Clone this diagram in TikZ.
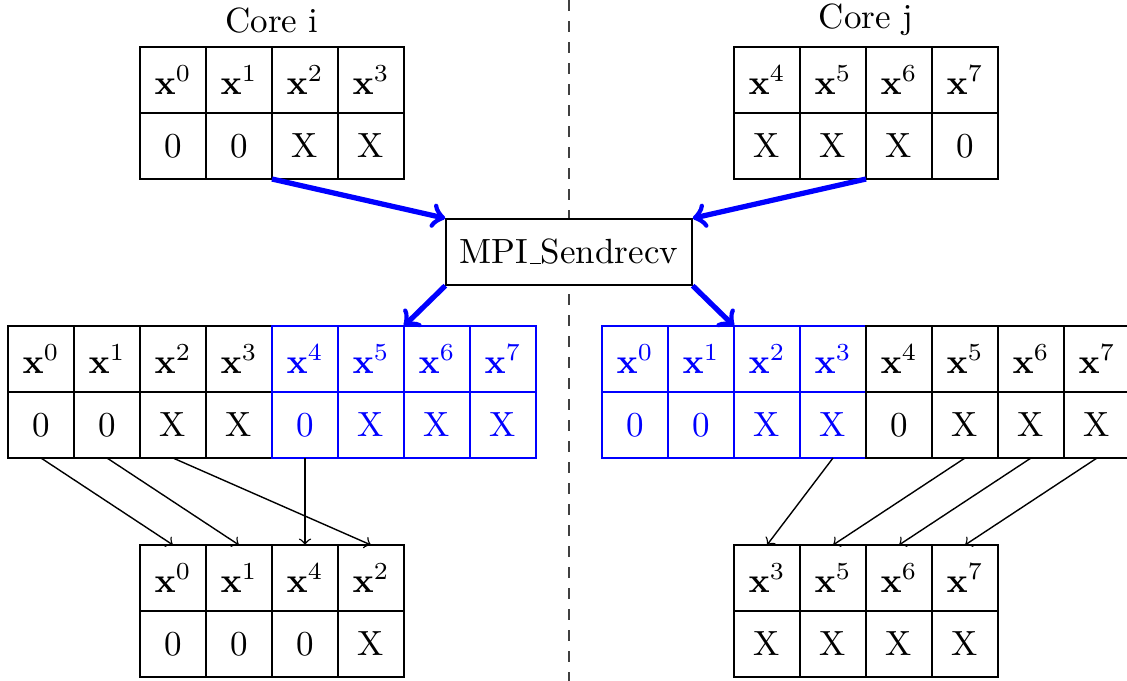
\documentclass[tikz,border=0pt]{standalone}
\begin{document}
\begin{tikzpicture}[x=0.2857pt,y=-0.2857pt,
  cell/.style={draw, minimum width=18.857pt, minimum height=18.857pt, inner sep=0pt, outer sep=0pt},
  bcell/.style={cell, draw=blue, text=blue},
  sendarrow/.style={->, blue, line width=1.5pt},
  maparrow/.style={->},
  sep/.style={dashed, black!75}]
\useasboundingbox (0,0) rectangle (1127,681);
\coordinate (dtop) at (569,0);
\coordinate (dbot) at (569,681);
\draw[sep] (dtop) -- (dbot);

% top-left table
\node[anchor=base] (corei) at (272,32) {Core i};
\foreach \s [count=\i from 0] in {0,1,2,3}
  \node[cell] (tlh\i) at (173+66*\i,80) {$\mathbf{x}^{\s}$};
\foreach \v [count=\i from 0] in {0,0,X,X}
  \node[cell] (tlv\i) at (173+66*\i,146) {\v};

% top-right table
\node[anchor=base] (corej) at (866,28) {Core j};
\foreach \s [count=\i from 0] in {4,5,6,7}
  \node[cell] (trh\i) at (767+66*\i,80) {$\mathbf{x}^{\s}$};
\foreach \v [count=\i from 0] in {X,X,X,0}
  \node[cell] (trv\i) at (767+66*\i,146) {\v};

% MPI box
\node[draw, fill=white, minimum width=70.29pt, minimum height=18.857pt, inner sep=0pt] (mpi) at (569,252) {MPI\kern.06em\vbox{\hrule width.3em}Sendrecv};

% middle-left table
\foreach \s [count=\i from 0] in {0,1,2,3}
  \node[cell] (mlh\i) at (41+66*\i,359) {$\mathbf{x}^{\s}$};
\foreach \v [count=\i from 0] in {0,0,X,X}
  \node[cell] (mlv\i) at (41+66*\i,425) {\v};
\foreach \s [count=\i from 4] in {4,5,6,7}
  \node[bcell] (mlh\i) at (41+66*\i,359) {$\mathbf{x}^{\s}$};
\foreach \v [count=\i from 4] in {0,X,X,X}
  \node[bcell] (mlv\i) at (41+66*\i,425) {\v};

% middle-right table
\foreach \s [count=\i from 0] in {0,1,2,3}
  \node[bcell] (mrh\i) at (635+66*\i,359) {$\mathbf{x}^{\s}$};
\foreach \v [count=\i from 0] in {0,0,X,X}
  \node[bcell] (mrv\i) at (635+66*\i,425) {\v};
\foreach \s [count=\i from 4] in {4,5,6,7}
  \node[cell] (mrh\i) at (635+66*\i,359) {$\mathbf{x}^{\s}$};
\foreach \v [count=\i from 4] in {0,X,X,X}
  \node[cell] (mrv\i) at (635+66*\i,425) {\v};

% bottom-left table
\foreach \s [count=\i from 0] in {0,1,4,2}
  \node[cell] (blh\i) at (173+66*\i,578) {$\mathbf{x}^{\s}$};
\foreach \v [count=\i from 0] in {0,0,0,X}
  \node[cell] (blv\i) at (173+66*\i,644) {\v};

% bottom-right table
\foreach \s [count=\i from 0] in {3,5,6,7}
  \node[cell] (brh\i) at (767+66*\i,578) {$\mathbf{x}^{\s}$};
\foreach \v [count=\i from 0] in {X,X,X,X}
  \node[cell] (brv\i) at (767+66*\i,644) {\v};

% send/receive arrows
\draw[sendarrow] (tlv2.south west) -- (mpi.north west);
\draw[sendarrow] (trv2.south west) -- (mpi.north east);
\draw[sendarrow] (mpi.south west) -- (mlh6.north west);
\draw[sendarrow] (mpi.south east) -- (mrh2.north west);

% mapping arrows
\draw[maparrow] (mlv0.south) -- (blh0.north);
\draw[maparrow] (mlv1.south) -- (blh1.north);
\draw[maparrow] (mlv2.south) -- (blh3.north);
\draw[maparrow] (mlv4.south) -- (blh2.north);
\draw[maparrow] (mrv3.south) -- (brh0.north);
\draw[maparrow] (mrv5.south) -- (brh1.north);
\draw[maparrow] (mrv6.south) -- (brh2.north);
\draw[maparrow] (mrv7.south) -- (brh3.north);
\end{tikzpicture}
\end{document}
